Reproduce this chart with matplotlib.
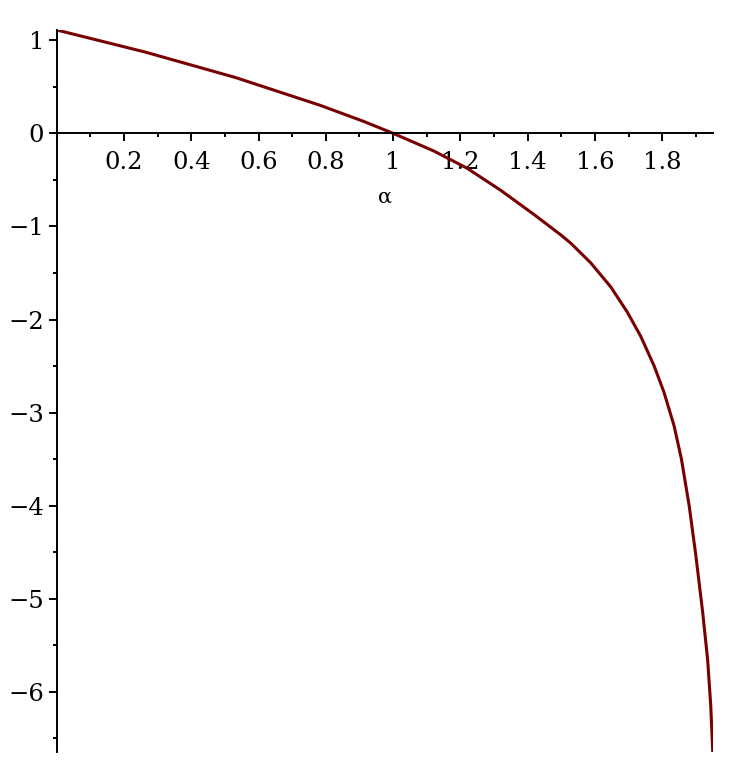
import numpy as np
import matplotlib.pyplot as plt
from matplotlib.ticker import MultipleLocator, FuncFormatter

# values
alpha = [0.0, 0.263, 0.531, 0.783, 0.9125, 1.0, 1.121, 1.22, 1.319,
         1.418, 1.498, 1.528, 1.587, 1.647, 1.696, 1.736, 1.776, 1.805, 1.835,
         1.857, 1.88, 1.9, 1.92, 1.935, 1.944, 1.95]
f_val = [1.11, 0.873, 0.600, 0.301, 0.128, 0.0, -0.19, -0.375, -0.61,
         -0.87, -1.09, -1.18, -1.39, -1.65, -1.92, -2.18, -2.50, -2.78, -3.14,
         -3.50, -4.00, -4.54, -5.14, -5.66, -6.14, -6.64]

x_ticks = [0.2, 0.4, 0.6, 0.8, 1.0, 1.2, 1.4, 1.6, 1.8]
y_ticks = [-6, -5, -4, -3, -2, -1, 0, 1]

fig = plt.figure(figsize=(7.5, 7.79), dpi=100)
ax = fig.add_axes([0.0756, 0.0347, 0.8747, 0.9268])

ax.plot(alpha, f_val, color='#780000', lw=2.2, solid_joinstyle='round')

ax.set_xlim(0, 1.95)
ax.set_ylim(-6.645, 1.11)

ax.spines['top'].set_visible(False)
ax.spines['right'].set_visible(False)
ax.spines['bottom'].set_position(('data', 0))
ax.spines['left'].set_position(('data', 0))
ax.spines['bottom'].set_linewidth(1.4)
ax.spines['left'].set_linewidth(1.4)

ax.set_xticks(x_ticks)
ax.set_yticks(y_ticks)
ax.xaxis.set_minor_locator(MultipleLocator(0.1))
ax.yaxis.set_minor_locator(MultipleLocator(0.5))

def fmt_x(v, pos):
    return '1' if abs(v - 1) < 1e-9 else '%.1f' % v

def fmt_y(v, pos):
    return '%d' % v if v >= 0 else '\u2212%d' % (-v)

ax.xaxis.set_major_formatter(FuncFormatter(fmt_x))
ax.yaxis.set_major_formatter(FuncFormatter(fmt_y))

serif = 'DejaVu Serif'
ax.tick_params(which='major', direction='out', length=6, width=1.4,
               labelsize=17.5)
ax.tick_params(axis='x', which='major', pad=7)
ax.tick_params(axis='y', which='major', pad=3)
ax.tick_params(which='minor', direction='out', length=3, width=1.4)
for lab in ax.get_xticklabels() + ax.get_yticklabels():
    lab.set_family(serif)

ax.text(0.977, -0.68, '\u03b1', ha='center', va='center', fontsize=15,
        family=serif)

plt.savefig('out.png', dpi=100)
